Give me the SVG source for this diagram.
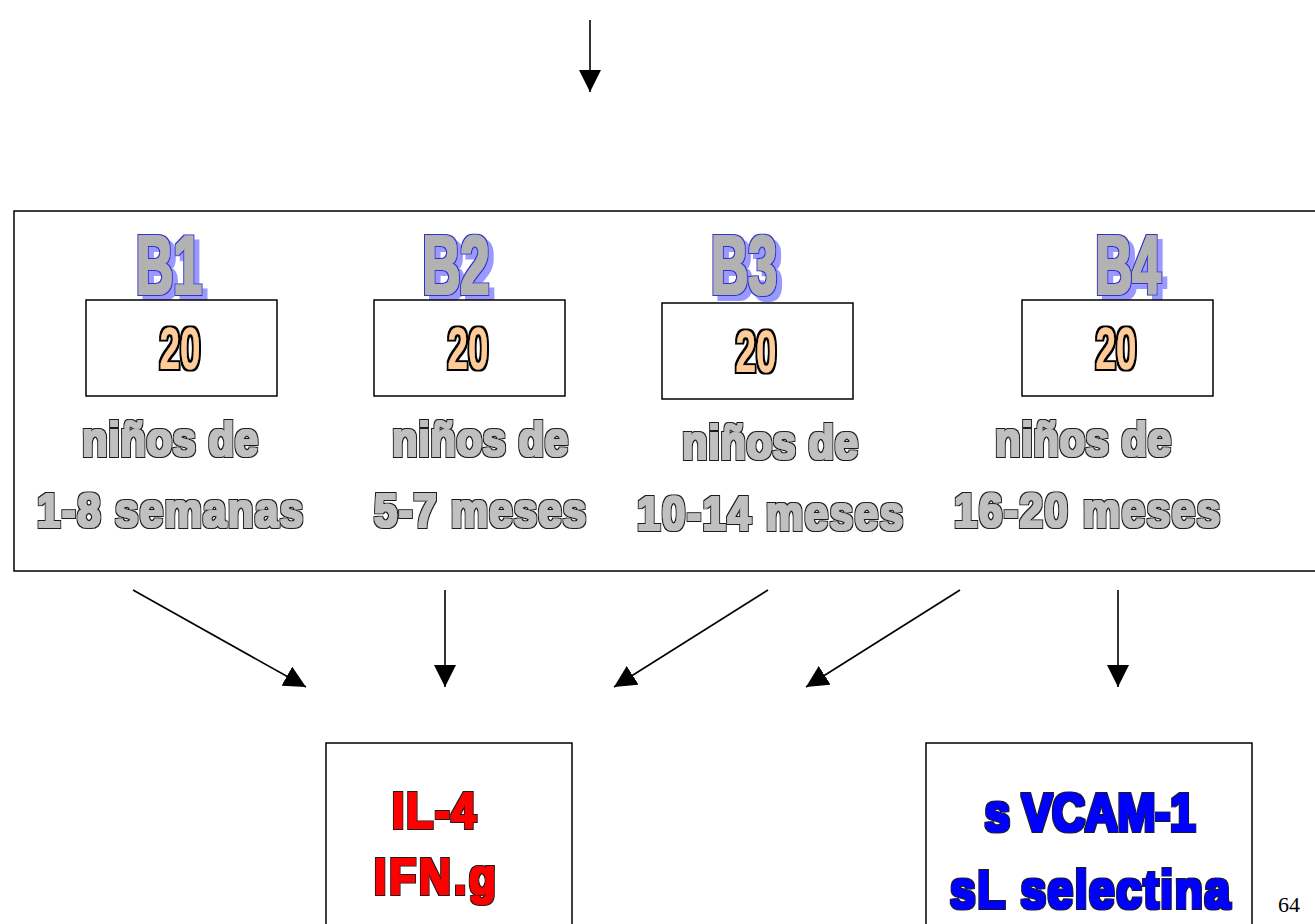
<svg xmlns="http://www.w3.org/2000/svg" width="1315" height="924" viewBox="0 0 1315 924">
<style>
.box{fill:#fff;stroke:#000;stroke-width:1.5}
.t{font-family:"Liberation Sans",Arial,sans-serif;font-weight:bold;text-anchor:middle}
.bl{font-size:84px;fill:#b2b2b2;filter:url(#bfx)}
.num{font-size:60px;fill:#ffcc99;filter:url(#thin)}
.lab{font-size:42px;fill:#c0c0c0;filter:url(#fat)}
.red{font-size:44px;fill:#ff0000;filter:url(#fat)}
.blue{font-size:46px;fill:#0000ff;filter:url(#fat)}
.conn{stroke:#000;stroke-width:1.6;fill:none;marker-end:url(#ah)}
</style>
<defs>
<marker id="ah" markerUnits="userSpaceOnUse" markerWidth="22" markerHeight="22" viewBox="0 0 20 20" refX="20" refY="10" orient="auto">
<path d="M0,0 L20,10 L0,20 Z" fill="#000"/>
</marker>
<filter id="fat" x="-10%" y="-25%" width="120%" height="150%">
<feMorphology in="SourceAlpha" operator="dilate" radius="1.9 1.6" result="o"/>
<feFlood flood-color="#1a1a1a"/>
<feComposite in2="o" operator="in" result="outline"/>
<feMorphology in="SourceGraphic" operator="dilate" radius="0.6 0.5" result="inner"/>
<feMerge><feMergeNode in="outline"/><feMergeNode in="inner"/></feMerge>
</filter>
<filter id="thin" x="-10%" y="-20%" width="120%" height="140%">
<feMorphology in="SourceAlpha" operator="dilate" radius="1.8" result="o"/>
<feFlood flood-color="#000"/>
<feComposite in2="o" operator="in" result="outline"/>
<feMorphology in="SourceGraphic" operator="dilate" radius="0.4" result="inner"/>
<feMerge><feMergeNode in="outline"/><feMergeNode in="inner"/></feMerge>
</filter>
<filter id="bfx" x="-15%" y="-20%" width="140%" height="150%">
<feMorphology in="SourceAlpha" operator="dilate" radius="2.4" result="o"/>
<feFlood flood-color="#3333cc"/>
<feComposite in2="o" operator="in" result="outline"/>
<feFlood flood-color="#9999ff"/>
<feComposite in2="o" operator="in"/>
<feOffset dx="5" dy="5" result="shadow"/>
<feMorphology in="SourceGraphic" operator="dilate" radius="0.6" result="inner"/>
<feMerge><feMergeNode in="shadow"/><feMergeNode in="outline"/><feMergeNode in="inner"/></feMerge>
</filter>
</defs>
<rect width="1315" height="924" fill="#fff"/>

<g id="group-box">
<rect class="box" x="14" y="211" width="1320" height="360"/>
</g>

<g id="B1">
<text class="t bl" x="169" y="294" textLength="66" lengthAdjust="spacingAndGlyphs">B1</text>
<rect class="box" x="86" y="300" width="191" height="96"/>
<text class="t num" x="180" y="369" textLength="41" lengthAdjust="spacingAndGlyphs">20</text>
<text class="t lab" transform="translate(170,456) scale(1,1.15)" textLength="176" lengthAdjust="spacing">niños de</text>
<text class="t lab" transform="translate(170,527) scale(1,1.15)" textLength="266" lengthAdjust="spacing">1-8 semanas</text>
</g>

<g id="B2">
<text class="t bl" x="456" y="294" textLength="67" lengthAdjust="spacingAndGlyphs">B2</text>
<rect class="box" x="374" y="300" width="191" height="96"/>
<text class="t num" x="468" y="369" textLength="41" lengthAdjust="spacingAndGlyphs">20</text>
<text class="t lab" transform="translate(480,456) scale(1,1.15)" textLength="176" lengthAdjust="spacing">niños de</text>
<text class="t lab" transform="translate(480,527) scale(1,1.15)" textLength="212" lengthAdjust="spacing">5-7 meses</text>
</g>

<g id="B3">
<text class="t bl" x="744" y="294" textLength="66" lengthAdjust="spacingAndGlyphs">B3</text>
<rect class="box" x="662" y="303" width="191" height="96"/>
<text class="t num" x="756" y="372" textLength="41" lengthAdjust="spacingAndGlyphs">20</text>
<text class="t lab" transform="translate(770,459) scale(1,1.15)" textLength="176" lengthAdjust="spacing">niños de</text>
<text class="t lab" transform="translate(770,530) scale(1,1.15)" textLength="266" lengthAdjust="spacing">10-14 meses</text>
</g>

<g id="B4">
<text class="t bl" x="1128" y="294" textLength="65" lengthAdjust="spacingAndGlyphs">B4</text>
<rect class="box" x="1022" y="300" width="191" height="96"/>
<text class="t num" x="1116" y="369" textLength="41" lengthAdjust="spacingAndGlyphs">20</text>
<text class="t lab" transform="translate(1083,456) scale(1,1.15)" textLength="176" lengthAdjust="spacing">niños de</text>
<text class="t lab" transform="translate(1087,527) scale(1,1.15)" textLength="266" lengthAdjust="spacing">16-20 meses</text>
</g>

<g id="IL">
<rect class="box" x="326" y="743" width="246" height="200"/>
<text class="t red" transform="translate(434,828) scale(1,1.13)" textLength="84" lengthAdjust="spacing">IL-4</text>
<text class="t red" transform="translate(435,894) scale(1,1.13)" textLength="122" lengthAdjust="spacing">IFN.g</text>
</g>

<g id="SL">
<rect class="box" x="926" y="743" width="326" height="200"/>
<text class="t blue" transform="translate(1090,831) scale(1,1.15)" textLength="211" lengthAdjust="spacing">s VCAM-1</text>
<text class="t blue" transform="translate(1090,908) scale(1,1.15)" textLength="280" lengthAdjust="spacing">sL selectina</text>
</g>

<g id="page">
<text x="1289" y="912" font-family="Liberation Serif,'Times New Roman',serif" font-size="22" text-anchor="middle" fill="#000">64</text>
</g>

<g id="connectors">
<line class="conn" x1="590" y1="20" x2="590" y2="92"/>
<line class="conn" x1="133" y1="590" x2="306" y2="687"/>
<line class="conn" x1="445" y1="590" x2="445" y2="687"/>
<line class="conn" x1="768" y1="590" x2="614" y2="687"/>
<line class="conn" x1="960" y1="590" x2="806" y2="687"/>
<line class="conn" x1="1118" y1="590" x2="1118" y2="687"/>
</g>
</svg>
